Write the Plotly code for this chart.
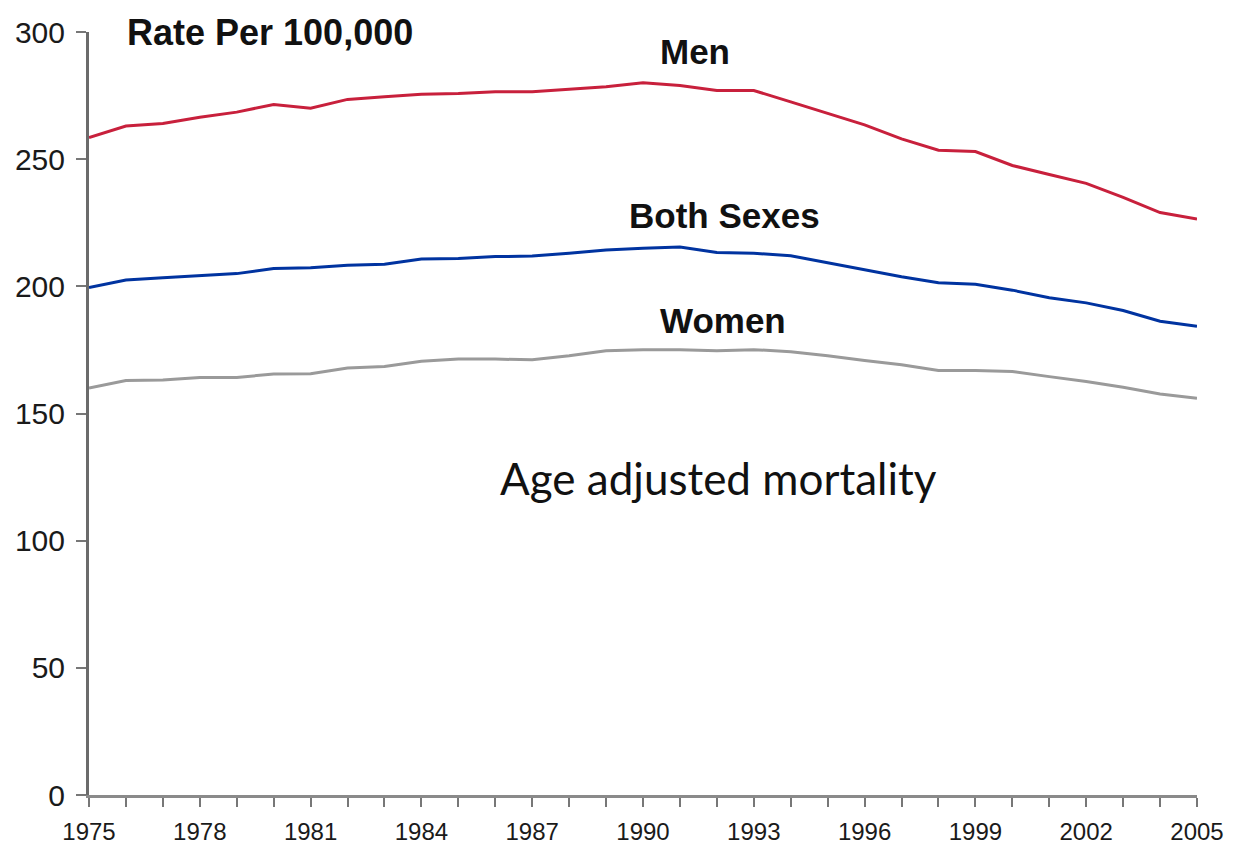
import plotly.graph_objects as go

years = list(range(1975, 2006))
men = [258.5, 263, 264, 266.5, 268.5, 271.5, 270, 273.5, 274.5, 275.5, 275.8, 276.5,
       276.5, 277.5, 278.5, 280, 279, 277, 277, 272.5, 268, 263.5, 258, 253.5, 253,
       247.5, 244, 240.5, 235, 229, 226.5]
both = [199.5, 202.5, 203.4, 204.3, 205, 207, 207.3, 208.3, 208.7, 210.7, 210.9, 211.7,
        211.9, 213, 214.3, 215, 215.5, 213.3, 213, 212, 209.3, 206.7, 203.8, 201.4,
        200.8, 198.5, 195.5, 193.5, 190.5, 186.3, 184.3]
women = [160, 163, 163.2, 164.2, 164.2, 165.5, 165.6, 167.9, 168.5, 170.5, 171.4, 171.4,
         171.1, 172.7, 174.7, 175.1, 175.1, 174.7, 175.1, 174.3, 172.7, 170.8, 169.2,
         166.9, 166.9, 166.5, 164.5, 162.6, 160.3, 157.7, 156]

y_ticks = [0, 50, 100, 150, 200, 250, 300]
x_ticks = list(range(1975, 2006, 3)) + [2005]

series = [
    ("Men", men, "#C8203C"),
    ("Both Sexes", both, "#0033A0"),
    ("Women", women, "#9A9A9A"),
]

fig = go.Figure()
for name, vals, color in series:
    fig.add_trace(go.Scatter(x=years, y=vals, mode="lines", name=name,
                             line=dict(color=color, width=3), showlegend=False))

bold = dict(family="Liberation Sans, Arial", size=35, color="#111111")
# labels placed in paper coords (page body adds an 8px offset, margins account for it)
notes = [
    ("<b>Men</b>", 0.547, 0.974, "center", 35),
    ("<b>Both Sexes</b>", 0.574, 0.760, "center", 35),
    ("<b>Women</b>", 0.572, 0.6225, "center", 35),
    ("<b>Rate Per 100,000</b>", 0.0325, 1.0, "left", 36),
]
for text, x, y, anchor, size in notes:
    fig.add_annotation(x=x, y=y, xref="paper", yref="paper", text=text, showarrow=False,
                       xanchor=anchor, yanchor="middle", font=dict(bold, size=size))

fig.add_annotation(x=0.5677, y=0.4155, xref="paper", yref="paper",
                   text="Age adjusted mortality", showarrow=False,
                   font=dict(family="Lato, Open Sans", size=44, color="#111111"))

tick_font = dict(family="Liberation Sans, Arial", color="#1a1a1a")

fig.update_xaxes(range=[1975, 2005], tickvals=x_ticks, ticks="outside", ticklen=9,
                 tickwidth=2, tickcolor="#777777", showline=True, linecolor="#8a8a8a",
                 linewidth=3, showgrid=False, zeroline=False,
                 minor=dict(dtick=1, tick0=1975, ticks="outside", ticklen=9,
                            tickwidth=2, tickcolor="#777777"),
                 tickfont=dict(size=24, **tick_font), ticklabelstandoff=4,
                 ticklabeloverflow="allow", automargin=False)
fig.update_yaxes(range=[0, 300], tickvals=y_ticks, ticks="outside", ticklen=10,
                 tickwidth=2, tickcolor="#777777", showline=True, linecolor="#6b6b6b",
                 linewidth=3, showgrid=False, zeroline=False,
                 tickfont=dict(size=30, **tick_font), ticklabelstandoff=5,
                 ticklabeloverflow="allow", automargin=False)

fig.update_layout(width=1217, height=841, plot_bgcolor="white", paper_bgcolor="white",
                  margin=dict(l=81, r=28, t=24, b=54))

fig.write_html("out.html")
